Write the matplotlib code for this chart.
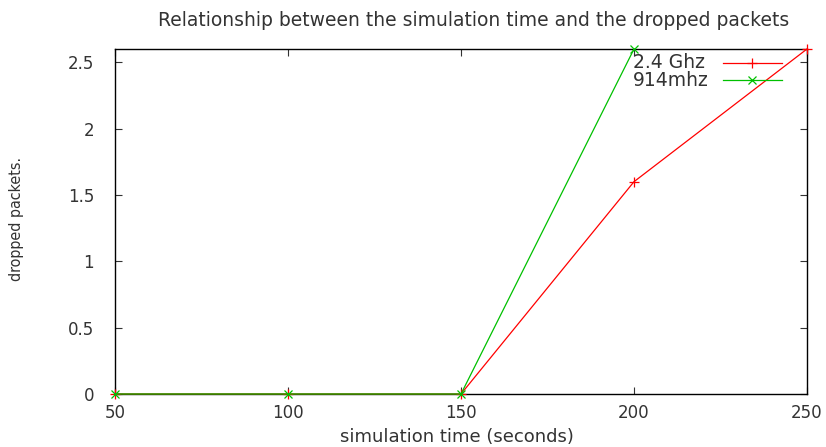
import matplotlib
matplotlib.use("Agg")
import matplotlib.pyplot as plt
from matplotlib.lines import Line2D

# Simulation time (seconds) and dropped packets per band
time_24 = [50, 100, 150, 200, 250]
drops_24 = [0, 0, 0, 1.6, 2.6]
time_914 = [50, 100, 150, 200]
drops_914 = [0, 0, 0, 2.6]

x_ticks = [50, 100, 150, 200, 250]
y_ticks = [0, 0.5, 1, 1.5, 2, 2.5]
series_labels = ['2.4 Ghz', '914mhz']
series_colors = ['#ff0000', '#00c000']
series_markers = ['+', 'x']

plt.rcParams['font.family'] = ['DejaVu Sans']
TXT = '#333333'

W, H = 826, 447
fig = plt.figure(figsize=(W / 100, H / 100), dpi=100)
L, R, T, B = 115, 807, 49, 394
ax = fig.add_axes([L / W, 1 - B / H, (R - L) / W, (B - T) / H])

ax.plot(time_24, drops_24, color=series_colors[0], lw=0.9, marker=series_markers[0],
        ms=7, mew=0.9, clip_on=False, zorder=3)
ax.plot(time_914, drops_914, color=series_colors[1], lw=0.9, marker=series_markers[1],
        ms=6, mew=0.9, clip_on=False, zorder=3)

ax.set_xlim(50, 250)
ax.set_ylim(0, 2.6)
ax.set_xticks(x_ticks)
ax.set_xticklabels([str(v) for v in x_ticks])
ax.set_yticks(y_ticks)
ax.set_yticklabels(['0', '0.5', '1', '1.5', '2', '2.5'])
ax.tick_params(direction='in', length=5, width=0.8, top=True, right=True,
               labelsize=12, colors=TXT)
ax.tick_params(axis='x', pad=7)
ax.tick_params(axis='y', pad=15)
for s in ax.spines.values():
    s.set_linewidth(1.0)
    s.set_color('black')

# Title and axis labels
fig.text(474 / W, 1 - 20 / H,
         'Relationship between the simulation time and the dropped packets',
         ha='center', va='center', fontsize=13.5, color=TXT)
ax.set_xlabel('simulation time (seconds)', fontsize=13, color=TXT)
ax.xaxis.set_label_coords((457 - L) / (R - L), (B - 437) / (B - T))
ax.xaxis.label.set_va('center')
ax.set_ylabel('dropped packets.', fontsize=11.5, color=TXT, fontstretch='condensed')
ax.yaxis.set_label_coords((16 - L) / (R - L), (B - 219) / (B - T))
ax.yaxis.label.set_va('center')

# Key: labels on the left, line samples with marker on the right
key_rows = [62.5, 80]
for lab, col, mk, yk in zip(series_labels, series_colors, series_markers, key_rows):
    fig.text(633 / W, 1 - yk / H, lab, ha='left', va='center', fontsize=13.5, color=TXT)
    fig.add_artist(Line2D([723 / W, 782 / W], [1 - yk / H, 1 - yk / H],
                          color=col, lw=0.9, transform=fig.transFigure))
    fig.add_artist(Line2D([752 / W], [1 - yk / H], color=col, lw=0, marker=mk,
                          ms=7 if mk == '+' else 6, mew=0.9,
                          transform=fig.transFigure))

fig.savefig('out.png', dpi=100)
